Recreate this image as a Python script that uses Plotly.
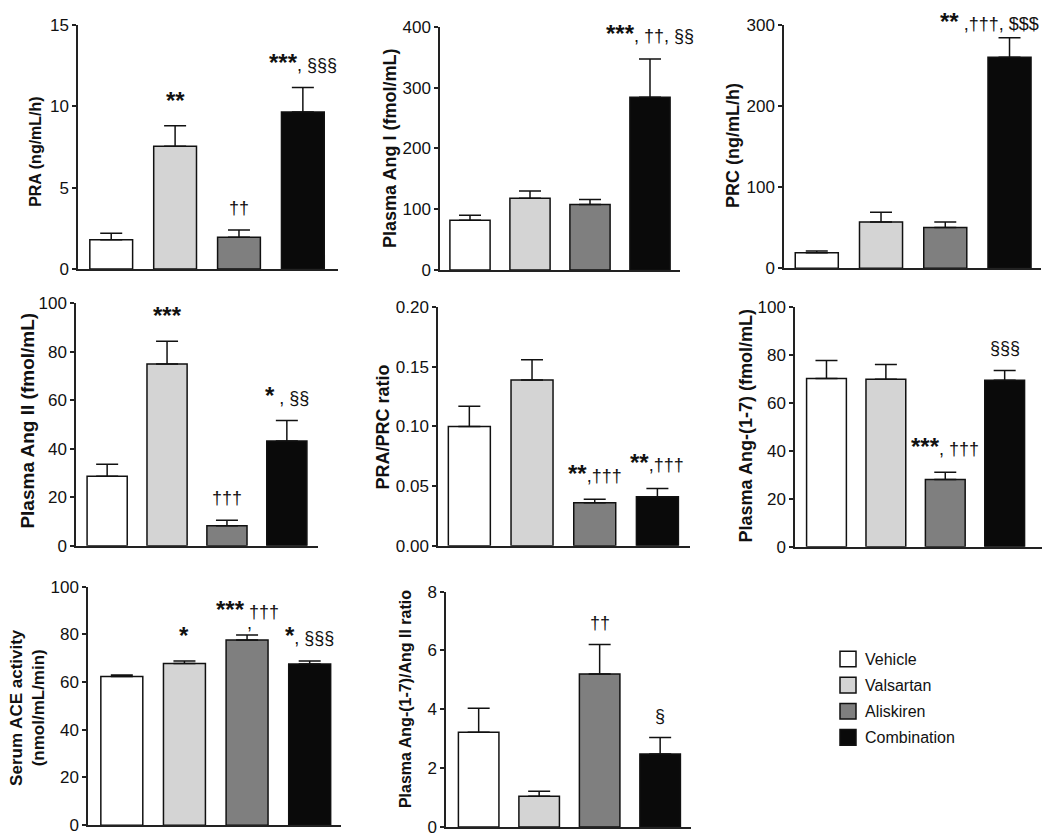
import re
import plotly.graph_objects as go

W, H = 1050, 834

groups = ["Vehicle", "Valsartan", "Aliskiren", "Combination"]
colors = ["#ffffff", "#d4d4d4", "#7f7f7f", "#0a0a0a"]

# mean and upper SEM for each panel
pra = [1.8, 7.55, 1.95, 9.65]
pra_sem = [0.4, 1.25, 0.45, 1.5]
ang1 = [82, 118, 108, 284]
ang1_sem = [8, 12, 8, 63]
prc = [19, 57, 50, 260]
prc_sem = [2, 12, 7, 24]
ang2 = [28.6, 75, 8.2, 43.2]
ang2_sem = [5, 9.3, 2.3, 8.4]
pra_prc = [0.100, 0.139, 0.036, 0.041]
pra_prc_sem = [0.017, 0.017, 0.003, 0.007]
ang17 = [70.2, 69.9, 28, 69.5]
ang17_sem = [7.5, 6.2, 3.1, 4.1]
ace = [62.3, 67.8, 77.7, 67.6]
ace_sem = [0.7, 1.1, 2.1, 1.3]
ang17_ang2 = [3.22, 1.05, 5.2, 2.48]
ang17_ang2_sem = [0.82, 0.17, 1.0, 0.56]

titles = ["PRA (ng/mL/h)", "Plasma Ang I (fmol/mL)", "PRC (ng/mL/h)",
          "Plasma Ang II (fmol/mL)", "PRA/PRC ratio", "Plasma Ang-(1-7) (fmol/mL)",
          "Serum ACE activity<br>(nmol/mL/min)", "Plasma Ang-(1-7)/Ang II ratio"]

sig = [
    ["", "**", "††", "***, §§§"],
    ["", "", "", "***, ††, §§"],
    ["", "", "", "** ,†††, $$$"],
    ["", "***", "†††", "* , §§"],
    ["", "", "**,†††", "**,†††"],
    ["", "", "***, †††", "§§§"],
    ["", "*", "*** †††", "*, §§§"],
    ["", "", "††", "§"],
]

means = [pra, ang1, prc, ang2, pra_prc, ang17, ace, ang17_ang2]
sems = [pra_sem, ang1_sem, prc_sem, ang2_sem, pra_prc_sem, ang17_sem, ace_sem, ang17_ang2_sem]
yranges = [15, 400, 300, 100, 0.2, 100, 100, 8]
dticks = [5, 100, 100, 20, 0.05, 20, 20, 2]

# panel boxes in pixels: left, right, top, bottom
boxes = [(70, 330, 8, 258), (432, 672, 10, 259), (776, 1033, 8, 257),
         (68, 310, 293, 541), (430, 682, 297, 541), (787, 1043, 297, 542),
         (80, 333, 583, 827), (438, 683, 588, 829)]
xranges = [(-0.52, 3.55), (-0.5, 3.5), (-0.51, 3.49), (-0.52, 3.52),
           (-0.5, 3.52), (-0.53, 3.78), (-0.54, 3.5), (-0.54, 3.51)]
title_x = [28, 382, 725, 20, 375, 738, 20, 397]
title_y = [138, 135, 132, 413, 420, 419, 707, 698]
title_size = [16, 18, 18, 19, 18, 18, 17, 16]

FONT = "Liberation Sans, Arial, sans-serif"
INK = "#111111"


def fmt(s):
    return re.sub(r"(\*+)", r'<span style="font-size:24px"><b>\1</b></span>', s)


fig = go.Figure()
annotations = []
shapes = []
for p in range(8):
    n = "" if p == 0 else str(p + 1)
    l, r, t, b = boxes[p]
    for i in range(4):
        fig.add_trace(go.Bar(
            x=[i], y=[means[p][i]], width=0.67,
            marker=dict(color=colors[i], line=dict(color=INK, width=1.5)),
            error_y=dict(type="data", symmetric=False, array=[sems[p][i]],
                         arrayminus=[0], color=INK, thickness=1.5, width=11),
            name=groups[i], showlegend=False,
            xaxis="x" + n, yaxis="y" + n,
        ))
        if sig[p][i]:
            annotations.append(dict(
                x=i, y=means[p][i] + sems[p][i], xref="x" + n, yref="y" + n,
                text=fmt(sig[p][i]), showarrow=False, yanchor="bottom",
                yshift=1 if p == 2 else 10, xshift=-20 if p == 2 else 0,
                font=dict(size=18, color=INK, family=FONT)))
    fig.update_layout(**{
        "xaxis" + n: dict(domain=[l / W, r / W], range=list(xranges[p]),
                          showline=True, linecolor="#222222", linewidth=1.5,
                          showticklabels=False, ticks="", showgrid=False,
                          zeroline=False, anchor="y" + n, fixedrange=True),
        "yaxis" + n: dict(domain=[1 - b / H, 1 - t / H], range=[0, yranges[p]],
                          dtick=dticks[p], tickformat=".2f" if p == 4 else "",
                          showline=True, linecolor="#222222", linewidth=1.5,
                          ticks="outside", ticklen=4, tickwidth=1.5,
                          tickcolor="#222222", showgrid=False, zeroline=False,
                          tickfont=dict(size=17, color=INK, family=FONT),
                          anchor="x" + n, fixedrange=True),
    })
    annotations.append(dict(
        x=title_x[p] / W, y=1 - title_y[p] / H, xref="paper", yref="paper",
        text="<b>" + titles[p] + "</b>", textangle=-90, showarrow=False,
        xanchor="center", yanchor="middle",
        font=dict(size=title_size[p], color=INK, family=FONT)))

# comma that wraps under the Aliskiren label in the ACE panel
annotations.append(dict(x=2, y=ace[2] + ace_sem[2], xref="x7", yref="y7",
                        text=",", showarrow=False, yanchor="bottom", yshift=0,
                        xshift=2, font=dict(size=18, color=INK, family=FONT)))

# legend drawn as squares and labels
for i, g in enumerate(groups):
    yc = 657 + 26.7 * i
    shapes.append(dict(type="rect", xref="paper", yref="paper",
                       x0=832 / W, x1=848 / W, y0=1 - (yc + 8) / H, y1=1 - (yc - 8) / H,
                       fillcolor=colors[i], line=dict(color=INK, width=1.5)))
    annotations.append(dict(x=855 / W, y=1 - yc / H, xref="paper", yref="paper",
                            text=g, showarrow=False, xanchor="left", yanchor="middle",
                            font=dict(size=16, color=INK, family=FONT)))

fig.update_layout(
    width=W, height=H, margin=dict(l=0, r=0, t=0, b=0),
    paper_bgcolor="white", plot_bgcolor="white",
    barmode="overlay", annotations=annotations, shapes=shapes,
    font=dict(family=FONT, color=INK), showlegend=False,
)

fig.write_html("out.html")
